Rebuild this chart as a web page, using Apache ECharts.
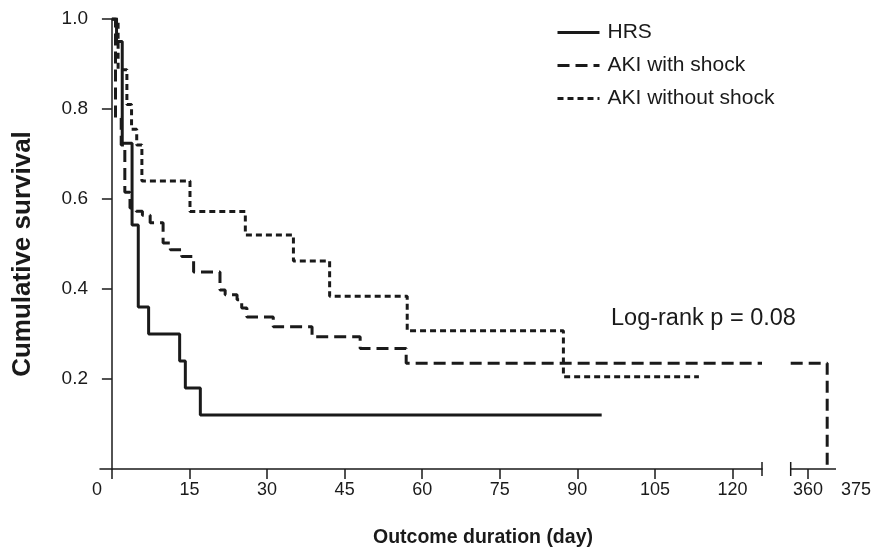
<!DOCTYPE html>
<html><head><meta charset="utf-8">
<script src="https://cdn.jsdelivr.net/npm/echarts@6/dist/echarts.min.js"></script>
<style>html,body{margin:0;padding:0;background:#fff}#c{width:878px;height:558px}</style>
</head><body><div id="c"></div>
<script>
// ---------- data ----------
const seriesNames = ['HRS', 'AKI with shock', 'AKI without shock'];
const hrsTime = [0, 0.9, 2.0, 3.9, 5.1, 7.1, 13.1, 14.2, 17.1, 94.7];
const hrsSurv = [1.0, 0.95, 0.724, 0.542, 0.36, 0.30, 0.24, 0.18, 0.12, 0.12];
const akiShockTime = [0, 0.7, 1.8, 2.5, 3.5, 4.7, 5.9, 7.4, 9.9, 11.3, 13.5, 15.8, 20.9, 21.9, 24.2, 25.1, 26.1, 31.2, 38.7, 48.0, 56.9, 366];
const akiShockSurv = [1.0, 0.78, 0.72, 0.615, 0.58, 0.573, 0.564, 0.547, 0.502, 0.487, 0.472, 0.438, 0.398, 0.387, 0.376, 0.358, 0.338, 0.316, 0.294, 0.268, 0.235, 0];
const akiNoShockTime = [0, 1.2, 2.9, 3.8, 4.8, 5.8, 15.1, 25.8, 35.1, 42.1, 57.1, 87.3, 113.5];
const akiNoShockSurv = [1.0, 0.887, 0.81, 0.755, 0.72, 0.64, 0.572, 0.52, 0.462, 0.384, 0.307, 0.205, 0.205];
const xTicksLeft = [0, 15, 30, 45, 60, 75, 90, 105, 120];
const xTicksRight = [360];
const xLabelsRight = [360, 375];
const yTicks = [0.2, 0.4, 0.6, 0.8, 1.0];
const xRangeLeft = [-2.3, 125.7];
const xRangeRight = [354.6, 375];
const xRightAxisEnd = 368.75;
const pValueText = 'Log-rank p = 0.08';
const xTitle = 'Outcome duration (day)';
const yTitle = 'Cumulative survival';

// ---------- helpers ----------
const FONT = "'Liberation Sans', Arial, Helvetica, sans-serif";
const INK = '#1a1a1a';
function segment(t, s, lo, hi) {
  const out = [];
  let last = null;
  for (let i = 0; i < t.length; i++) {
    if (t[i] < lo) { last = s[i]; continue; }
    if (t[i] > hi) break;
    if (out.length === 0 && last !== null && t[i] > lo) out.push([lo, last]);
    out.push([t[i], s[i]]);
    last = s[i];
  }
  if (t[t.length - 1] > hi && last !== null) out.push([hi, last]);
  return out;
}
const styles = [
  { type: 'solid' },
  { type: [12, 6] },
  { type: [6, 4] }
];
const raw = [[hrsTime, hrsSurv], [akiShockTime, akiShockSurv], [akiNoShockTime, akiNoShockSurv]];
const series = [];
raw.forEach((r, i) => {
  [[xRangeLeft, 0], [xRangeRight, 1]].forEach(([rng, gi]) => {
    const d = segment(r[0], r[1], rng[0], rng[1]);
    if (d.length) series.push({
      name: seriesNames[i], type: 'line', step: 'end', symbol: 'none',
      xAxisIndex: gi, yAxisIndex: gi, data: d, clip: true,
      lineStyle: { color: INK, width: 3, type: styles[i].type, cap: 'butt' },
      itemStyle: { color: INK }
    });
  });
});

const chart = echarts.init(document.getElementById('c'), null, { renderer: 'canvas' });
const axisLineStyle = { color: INK, width: 1.5 };
const tickLabel = { fontFamily: FONT, fontSize: 18, color: INK };
chart.setOption({
  animation: false,
  backgroundColor: '#fff',
  grid: [
    { left: 100, top: 19, width: 662, height: 450 },
    { left: 790.7, top: 19, width: 65.3, height: 450 }
  ],
  xAxis: [
    {
      type: 'value', gridIndex: 0, min: xRangeLeft[0], max: xRangeLeft[1],
      axisLine: { show: true, lineStyle: axisLineStyle },
      axisTick: { show: true, customValues: xTicksLeft, length: 10, lineStyle: axisLineStyle },
      axisLabel: Object.assign({}, tickLabel, {
        customValues: xTicksLeft, margin: 12,
        formatter: v => v === 0 ? '{z|0}' : String(v),
        rich: { z: Object.assign({}, tickLabel, { padding: [0, 30, 0, 0] }) }
      }),
      splitLine: { show: false }
    },
    {
      type: 'value', gridIndex: 1, min: xRangeRight[0], max: xRangeRight[1],
      axisLine: { show: false },
      axisTick: { show: true, customValues: xTicksRight, length: 10, lineStyle: axisLineStyle },
      axisLabel: Object.assign({}, tickLabel, { customValues: xLabelsRight, margin: 12 }),
      splitLine: { show: false }
    }
  ],
  yAxis: [
    {
      type: 'value', gridIndex: 0, min: 0, max: 1,
      axisLine: { show: true, onZero: true, lineStyle: axisLineStyle },
      axisTick: { show: true, customValues: yTicks, length: 10, lineStyle: axisLineStyle },
      axisLabel: Object.assign({}, tickLabel, { fontSize: 19, customValues: yTicks, margin: 12, formatter: v => v.toFixed(1) }),
      splitLine: { show: false }
    },
    { type: 'value', gridIndex: 1, min: 0, max: 1, show: false }
  ],
  legend: {
    data: seriesNames, orient: 'vertical', left: 551, top: 17,
    itemWidth: 42, itemHeight: 14, itemGap: 12,
    itemStyle: { opacity: 0 },
    lineStyle: { width: 3, color: INK },
    textStyle: { fontFamily: FONT, fontSize: 21, color: INK, padding: [0, 0, 0, 3] }
  },
  series: series
});

// axis decorations for the broken x axis, positioned through the axis scales
const pL = chart.convertToPixel({ xAxisIndex: 0, yAxisIndex: 0 }, [xRangeLeft[1], 0]);
const pR0 = chart.convertToPixel({ xAxisIndex: 1, yAxisIndex: 1 }, [xRangeRight[0], 0]);
const pR1 = chart.convertToPixel({ xAxisIndex: 1, yAxisIndex: 1 }, [xRightAxisEnd, 0]);
const ls = { stroke: INK, lineWidth: 1.5 };
chart.setOption({
  graphic: [
    { type: 'line', shape: { x1: pL[0], y1: pL[1] - 7, x2: pL[0], y2: pL[1] + 7 }, style: ls },
    { type: 'line', shape: { x1: pR0[0], y1: pR0[1] - 7, x2: pR0[0], y2: pR0[1] + 7 }, style: ls },
    { type: 'line', shape: { x1: pR0[0], y1: pR0[1], x2: pR1[0], y2: pR1[1] }, style: ls },
    { type: 'text', left: 611, top: 307, style: { text: pValueText, font: '23.5px ' + FONT, fill: INK } },
    { type: 'text', x: 483, y: 538, style: { text: xTitle, font: 'bold 19.5px ' + FONT, fill: INK, align: 'center', verticalAlign: 'middle' } },
    { type: 'text', x: 23, y: 254, rotation: Math.PI / 2, style: { text: yTitle, font: 'bold 26px ' + FONT, fill: INK, align: 'center', verticalAlign: 'middle' } }
  ]
});
</script>
</body></html>
